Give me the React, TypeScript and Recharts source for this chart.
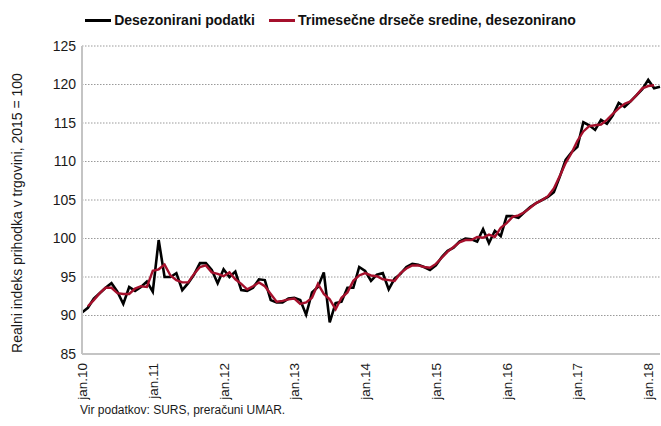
import { CartesianGrid, Line, LineChart, XAxis, YAxis } from 'recharts';

// monthly index, jan.10 .. mar.18
const deseasonalized = [
    90.4, 91.0, 92.2, 92.9, 93.6, 94.2, 93.1, 91.5, 93.7, 93.2, 93.7, 94.4,
    93.1, 99.8, 95.0, 95.0, 95.5, 93.3, 94.2, 95.3, 96.8, 96.8, 95.9, 94.2,
    96.0, 95.0, 95.7, 93.3, 93.2, 93.6, 94.7, 94.6, 92.0, 91.7, 91.7, 92.2,
    92.3, 92.0, 90.1, 93.0, 93.7, 95.6, 89.1, 91.6, 91.8, 93.6, 93.6, 96.3,
    95.8, 94.5, 95.3, 95.5, 93.4, 94.8, 95.4, 96.3, 96.7, 96.6, 96.3, 95.9,
    96.5, 97.6, 98.4, 98.8, 99.6, 100.0, 99.9, 99.6, 101.2, 99.4, 101.0, 100.3,
    102.9, 102.9, 102.7, 103.4, 104.1, 104.6, 105.0, 105.4, 106.0, 108.0, 110.2, 111.2,
    111.9, 115.1, 114.7, 114.1, 115.4, 114.9, 116.0, 117.6, 117.1, 117.8, 118.6, 119.4,
    120.6, 119.5, 119.7,
];

const movingAverage = [
    null, 91.2, 92.0, 92.9, 93.6, 93.6, 92.9, 92.8, 92.8, 93.5, 93.8, 93.7,
    95.8, 96.0, 96.6, 95.2, 94.6, 94.3, 94.3, 95.4, 96.3, 96.5, 95.6, 95.4,
    95.1, 95.6, 94.7, 94.1, 93.4, 93.8, 94.3, 93.8, 92.8, 91.8, 91.9, 92.1,
    92.2, 91.5, 91.7, 92.3, 94.1, 92.8, 92.1, 90.8, 92.3, 93.0, 94.5, 95.2,
    95.5, 95.2, 95.1, 94.7, 94.6, 94.5, 95.5, 96.1, 96.5, 96.5, 96.3, 96.2,
    96.7, 97.5, 98.3, 98.9, 99.5, 99.8, 99.8, 100.2, 100.1, 100.5, 100.2, 101.4,
    102.0, 102.8, 103.0, 103.4, 104.0, 104.6, 105.0, 105.5, 106.5, 108.1, 109.8, 111.1,
    112.7, 113.9, 114.6, 114.7, 114.8, 115.4, 116.2, 116.9, 117.5, 117.8, 118.6, 119.5,
    119.8, 119.9, null,
];

const yearLabels = ['jan.10', 'jan.11', 'jan.12', 'jan.13', 'jan.14', 'jan.15', 'jan.16', 'jan.17', 'jan.18'];
const yTicks = [85, 90, 95, 100, 105, 110, 115, 120, 125];

const FONT = '"Liberation Sans", Arial, sans-serif';

const data = deseasonalized.map((v, i) => ({ i, raw: v, avg: movingAverage[i] }));
const xTicks = yearLabels.map((_, k) => k * 12);

const MonthTick = ({ x, y, payload }: any) => {
    const tx = x + 5;
    const ty = y + 1;
    return (
        <text x={tx} y={ty} transform={`rotate(-90, ${tx}, ${ty})`} textAnchor="end" fill="#1a1a1a" fontSize={13.5} fontFamily={FONT}>
            {yearLabels[payload.value / 12]}
        </text>
    );
};

const LegendBox = () => (
    <div style={{ position: 'absolute', left: 0, top: 12, width: 661, display: 'flex', justifyContent: 'center', fontFamily: FONT, fontSize: 14, fontWeight: 700, color: '#111' }}>
        <span style={{ display: 'flex', alignItems: 'center', marginRight: 14 }}>
            <span style={{ width: 26, height: 3, background: '#000', marginRight: 3 }} />
            Desezonirani podatki
        </span>
        <span style={{ display: 'flex', alignItems: 'center' }}>
            <span style={{ width: 26, height: 3, background: '#a5102c', marginRight: 3 }} />
            Trimesečne drseče sredine, desezonirano
        </span>
    </div>
);

const App = () => {
    return (
        <div style={{ position: 'fixed', left: 0, top: 0, width: 661, height: 426, background: '#fff' }}>
            <LineChart width={661} height={426} data={data} margin={{ top: 46, right: 1, left: 0, bottom: 0 }}>
                <CartesianGrid vertical={false} stroke="#9a9a9a" strokeDasharray="1.5 1.5" />
                <XAxis
                    dataKey="i"
                    type="number"
                    domain={[0, 98]}
                    ticks={xTicks}
                    interval={0}
                    height={72}
                    tickLine={false}
                    axisLine={{ stroke: '#c4c4c4', strokeWidth: 2 }}
                    tick={<MonthTick />}
                />
                <YAxis
                    domain={[85, 125]}
                    ticks={yTicks}
                    interval={0}
                    width={82}
                    tickLine={false}
                    tickMargin={0}
                    axisLine={{ stroke: '#c4c4c4', strokeWidth: 2 }}
                    tick={{ fill: '#1a1a1a', fontSize: 14, fontFamily: FONT }}
                    label={{
                        content: () => (
                            <text x={22} y={213} transform="rotate(-90, 22, 213)" textAnchor="middle" fill="#1a1a1a" fontSize={14} fontFamily={FONT}>
                                Realni indeks prihodka v trgovini, 2015 = 100
                            </text>
                        ),
                    }}
                />
                <Line type="linear" dataKey="raw" stroke="#000" strokeWidth={2.6} dot={false} isAnimationActive={false} />
                <Line type="linear" dataKey="avg" stroke="#a5102c" strokeWidth={2.4} dot={false} connectNulls isAnimationActive={false} />
            </LineChart>
            <LegendBox />
            <div style={{ position: 'absolute', left: 80, top: 403, fontFamily: FONT, fontSize: 12, color: '#1a1a1a' }}>
                Vir podatkov: SURS, preračuni UMAR.
            </div>
        </div>
    );
};

export default App;
